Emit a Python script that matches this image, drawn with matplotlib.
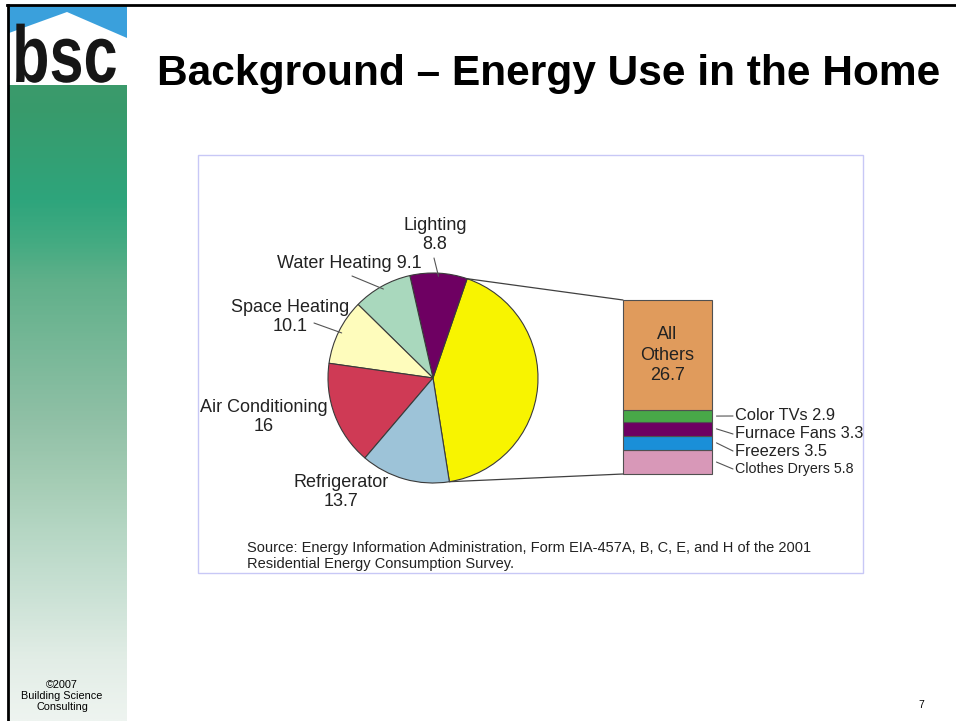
import matplotlib
matplotlib.use("Agg")
import matplotlib.pyplot as plt
import numpy as np
from matplotlib.patches import Rectangle, Polygon, ConnectionPatch
from matplotlib.colors import LinearSegmentedColormap
from matplotlib.patheffects import AbstractPathEffect
from matplotlib.transforms import Affine2D

plt.rcParams['font.family'] = ['Liberation Sans', 'DejaVu Sans']

# main pie: household energy use shares
pie_labels = ['Other', 'Lighting', 'Water Heating', 'Space Heating', 'Air Conditioning', 'Refrigerator']
pie_values = [42.2, 8.8, 9.1, 10.1, 16, 13.7]
pie_colors = ['#f8f400', '#6e0062', '#a9d8bd', '#fefcbc', '#cf3a55', '#9dc3d8']

# breakdown of "Other", bottom to top
bar_labels = ['Clothes Dryers', 'Freezers', 'Furnace Fans', 'Color TVs', 'All Others']
bar_values = [5.8, 3.5, 3.3, 2.9, 26.7]
bar_colors = ['#d898b8', '#1a8fd8', '#6e0062', '#48a848', '#e09b5c']

title = 'Background \u2013 Energy Use in the Home'
source = ('Source: Energy Information Administration, Form EIA-457A, B, C, E, and H of the 2001\n'
          'Residential Energy Consumption Survey.')

W, H = 956, 721
fig = plt.figure(figsize=(W / 100, H / 100), dpi=100)
bg = fig.add_axes([0, 0, 1, 1])


def px_axes(x0, y0, x1, y1):
    return fig.add_axes([x0 / W, 1 - y1 / H, (x1 - x0) / W, (y1 - y0) / H])


class Squeeze(AbstractPathEffect):
    # narrow the glyphs horizontally around a fixed pixel x
    def __init__(self, cx, sx):
        super().__init__()
        self.cx, self.sx = cx, sx

    def draw_path(self, renderer, gc, tpath, affine, rgbFace=None):
        t = affine + Affine2D().translate(-self.cx, 0).scale(self.sx, 1).translate(self.cx, 0)
        renderer.draw_path(gc, tpath, t, rgbFace)


# sidebar gradient
side = LinearSegmentedColormap.from_list('side', [
    (0.0, '#3b9a6b'), (0.04, '#389b6c'), (0.18, '#2ea57c'), (0.25, '#45ab82'),
    (0.307, '#60b08a'), (0.417, '#78b898'), (0.527, '#90c0a6'), (0.621, '#a4ccb4'),
    (0.715, '#b8d8c6'), (0.81, '#cce2d6'), (0.904, '#e2ede6'), (1.0, '#eef4f0')])
grad = np.linspace(0, 1, 400).reshape(-1, 1)
bg.imshow(grad, extent=[9, 127, 721, 85], aspect='auto', cmap=side, origin='upper')

# logo
bg.add_patch(Rectangle((9, 5), 118, 80, color='#3aa0dc', lw=0))
bg.add_patch(Polygon([(9, 33), (67, 12), (127, 38), (127, 85), (9, 85)], color='white', lw=0))
bg.text(2, 82, 'bsc', ha='left', va='baseline', fontsize=58, fontweight='bold',
        color='#161616', path_effects=[Squeeze(44, 0.76)])

# slide borders
bg.plot([8, 8], [5, 721], color='black', lw=2)
bg.plot([7, 956], [5, 5], color='black', lw=2)

bg.text(549, 74, title, ha='center', va='center', fontsize=30.6, fontweight='bold')

# chart frame
bg.add_patch(Rectangle((198, 155), 665, 418, fill=False, edgecolor='#c8c8f6', lw=1))
bg.text(247, 556, source, ha='left', va='center', fontsize=10.5, linespacing=1.2, color='#222222')

bg.text(62, 696, '\u00a92007\nBuilding Science\nConsulting', ha='center', va='center',
        fontsize=7.8, linespacing=1.1)
bg.text(921, 705, '7', ha='center', va='center', fontsize=7.5)

bg.set_xlim(0, W)
bg.set_ylim(H, 0)
bg.axis('off')

# pie
cx, cy, r_px, pad = 433, 378, 105, 1.1
pie_ax = px_axes(cx - r_px * pad, cy - r_px * pad, cx + r_px * pad, cy + r_px * pad)
total = sum(pie_values)
start = -5 - 360 * pie_values[0] / total / 2
wedges, _ = pie_ax.pie(pie_values, colors=pie_colors, startangle=start, counterclock=True,
                       wedgeprops=dict(edgecolor='#3a3a3a', linewidth=0.8))
pie_ax.set_xlim(-pad, pad)
pie_ax.set_ylim(-pad, pad)
pie_ax.set_aspect('equal')
pie_ax.axis('off')

# label centres (pixels), joiner, leader start
label_pos = {
    'Other': (480, 378, '\n', None),
    'Lighting': (435, 235, '\n', (434, 258)),
    'Water Heating': (349, 264, ' ', (352, 276)),
    'Space Heating': (290, 317, '\n', (314, 323)),
    'Air Conditioning': (264, 417, '\n', None),
    'Refrigerator': (341, 492, '\n', None),
}
for w, lab, val in zip(wedges, pie_labels, pie_values):
    x, y, sep, lead = label_pos[lab]
    bg.text(x, y, lab + sep + f'{val:g}', ha='center', va='center', fontsize=13,
            linespacing=1.2, color='#222222')
    if lead is not None:
        mid = np.deg2rad((w.theta1 + w.theta2) / 2)
        con = ConnectionPatch(xyA=lead, coordsA=bg.transData,
                              xyB=(0.97 * np.cos(mid), 0.97 * np.sin(mid)), coordsB=pie_ax.transData,
                              color='#555555', lw=0.8)
        fig.add_artist(con)

# stacked bar for "Other"
bar_ax = px_axes(623, 300, 712, 474)
bottom = 0
mids = []
for lab, val, col in zip(bar_labels, bar_values, bar_colors):
    bar_ax.bar(0, val, width=1, bottom=bottom, color=col, edgecolor='#505050', lw=0.8, clip_on=False)
    mids.append(bottom + val / 2)
    bottom += val
bar_ax.set_xlim(-0.5, 0.5)
bar_ax.set_ylim(0, bottom)
bar_ax.axis('off')

bar_ax.text(0, mids[-1], 'All\nOthers\n' + f'{bar_values[-1]:g}', ha='center', va='center',
            fontsize=13, linespacing=1.25, color='#222222')

label_y = [469, 451, 434, 416]
label_fs = [10.3, 11.8, 11.8, 11.8]
for lab, val, m, ly, fs in zip(bar_labels[:-1], bar_values[:-1], mids[:-1], label_y, label_fs):
    bg.text(735, ly, f'{lab} {val:g}', ha='left', va='center', fontsize=fs, color='#222222')
    con = ConnectionPatch(xyA=(0.55, m), coordsA=bar_ax.transData, xyB=(733, ly), coordsB=bg.transData,
                          color='#555555', lw=0.8)
    fig.add_artist(con)

# connector lines from the "Other" wedge to the bar
w0 = wedges[0]
for ang, yb in [(w0.theta2, bottom), (w0.theta1, 0)]:
    a = np.deg2rad(ang)
    con = ConnectionPatch(xyA=(np.cos(a), np.sin(a)), coordsA=pie_ax.transData,
                          xyB=(-0.5, yb), coordsB=bar_ax.transData, color='#404040', lw=0.9)
    fig.add_artist(con)

fig.savefig('out.png', dpi=100)
